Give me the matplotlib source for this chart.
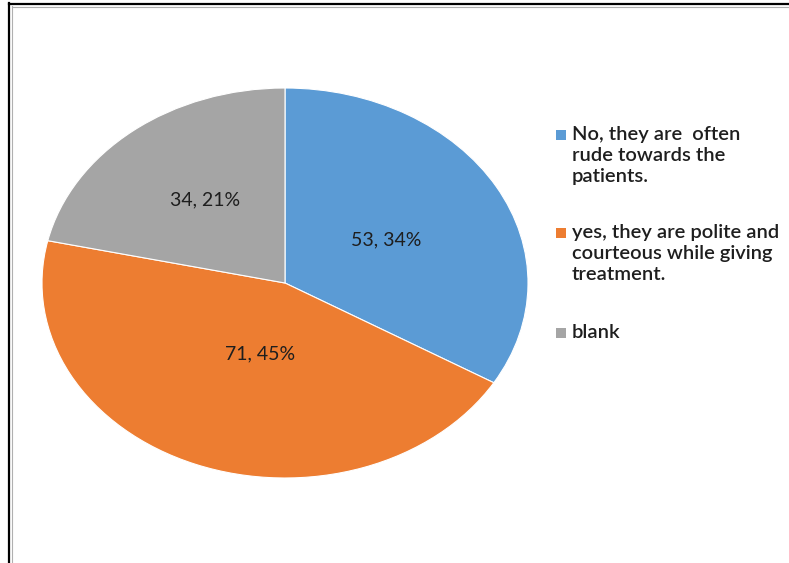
import matplotlib
matplotlib.use("Agg")
import matplotlib.pyplot as plt
from matplotlib.patches import Rectangle
from matplotlib.lines import Line2D
import numpy as np

# Survey answers
categories = [
    "No, they are  often\nrude towards the\npatients.",
    "yes, they are polite and\ncourteous while giving\ntreatment.",
    "blank",
]
counts = [53, 71, 34]
percents = [34, 45, 21]
colors = ["#5B9BD5", "#ED7D31", "#A5A5A5"]

W, H = 789, 563
fig = plt.figure(figsize=(W / 100, H / 100), dpi=100)
fig.patch.set_facecolor("white")

FONT = ["Lato", "DejaVu Sans"]

# Pie drawn into an axes with free aspect so it renders as a slight ellipse
left, right, top, bottom = 42, 528, 88, 478
ax = fig.add_axes([left / W, (H - bottom) / H, (right - left) / W, (bottom - top) / H])
wedges, _ = ax.pie(counts, colors=colors, startangle=90, counterclock=False,
                   radius=1.0, wedgeprops=dict(edgecolor="white", linewidth=0.8))
ax.set_aspect("auto")
ax.set_xlim(-1, 1)
ax.set_ylim(-1, 1)
ax.axis("off")

# Data labels inside each slice (radius, angular nudge in degrees)
label_pos = [(0.47, -1.5), (0.375, 6.0), (0.54, -1.0)]
for w, n, p, (r, nudge) in zip(wedges, counts, percents, label_pos):
    mid = np.deg2rad((w.theta1 + w.theta2) / 2 + nudge)
    ax.text(r * np.cos(mid), r * np.sin(mid), f"{n}, {p}%",
            ha="center", va="center", fontsize=14, color="#1e1e1e", family=FONT)

# Legend on the right
first_line_y = [135, 233, 333]
for cat, col, y in zip(categories, colors, first_line_y):
    fig.patches.append(Rectangle((556 / W, (H - y - 5) / H), 10 / W, 10 / H,
                                 transform=fig.transFigure, facecolor=col,
                                 edgecolor="none"))
    fig.text(572 / W, (H - y + 9) / H, cat, ha="left", va="top", fontsize=14.5,
             fontweight="semibold", color="#1e1e1e", family=FONT, linespacing=1.27)

# Frame lines along the top and left edges
fig.add_artist(Line2D([9 / W, 9 / W], [0, (H - 3) / H], color="black", lw=1.6,
                      transform=fig.transFigure))
fig.add_artist(Line2D([9 / W, 1], [(H - 4) / H, (H - 4) / H], color="black", lw=1.6,
                      transform=fig.transFigure))
fig.add_artist(Line2D([12 / W, 12 / W], [0, (H - 6) / H], color="#b0b0b0", lw=0.8,
                      transform=fig.transFigure))
fig.add_artist(Line2D([12 / W, 1], [(H - 7) / H, (H - 7) / H], color="#b0b0b0", lw=0.8,
                      transform=fig.transFigure))

fig.savefig("out.png", dpi=100)
